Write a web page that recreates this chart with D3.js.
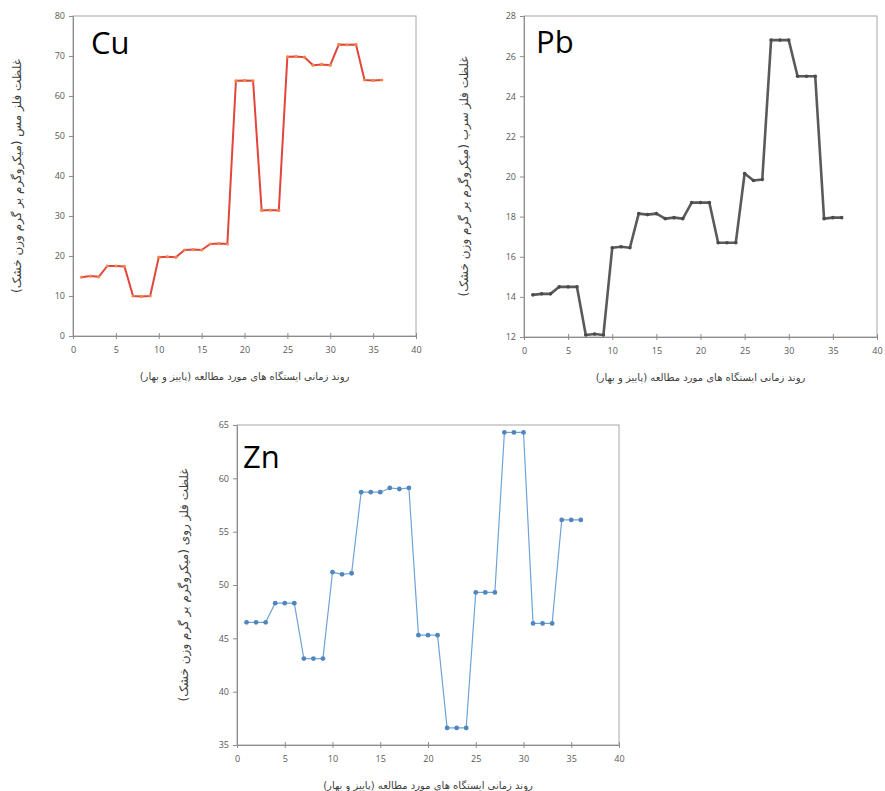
<!DOCTYPE html>
<html>
<head>
<meta charset="utf-8">
<script src="https://cdn.jsdelivr.net/npm/d3@7"></script>
<style>
  body { margin: 0; background: #fff; }
  svg { display: block; }
  .tick text { font-family: "Open Sans", sans-serif; font-size: 9px; fill: #595959; }
  .domain, .tick line { stroke: #8c8c8c; }
  .frame { fill: none; stroke: #a6a6a6; stroke-width: 1; }
  .ttl { font-family: "Open Sans", sans-serif; font-size: 31px; fill: #000; }
  .fa { font-family: "DejaVu Sans", sans-serif; font-size: 10px; fill: #404040; }
  .fa.yt { font-size: 12px; }
</style>
</head>
<body>
<svg id="chart" width="885" height="791"></svg>
<script>
// station index along the time trend (autumn + spring)
const stations = [1, 2, 3, 4, 5, 6, 7, 8, 9, 10, 11, 12, 13, 14, 15, 16, 17, 18,
  19, 20, 21, 22, 23, 24, 25, 26, 27, 28, 29, 30, 31, 32, 33, 34, 35, 36];

const cuValues = [14.7, 15.0, 14.8, 17.5, 17.5, 17.4, 10.0, 9.9, 10.0, 19.7, 19.8, 19.7,
  21.5, 21.6, 21.5, 23.0, 23.1, 23.0, 63.8, 63.9, 63.8, 31.4, 31.5, 31.4,
  69.8, 69.9, 69.7, 67.7, 67.9, 67.7, 72.9, 72.8, 72.9, 64.0, 63.9, 64.0];

const pbValues = [14.1, 14.15, 14.15, 14.5, 14.5, 14.5, 12.1, 12.15, 12.1, 16.45, 16.5, 16.45,
  18.15, 18.1, 18.15, 17.9, 17.95, 17.9, 18.7, 18.7, 18.7, 16.7, 16.7, 16.7,
  20.15, 19.8, 19.85, 26.8, 26.8, 26.8, 25.0, 25.0, 25.0, 17.9, 17.95, 17.95];

const znValues = [46.5, 46.5, 46.5, 48.3, 48.3, 48.3, 43.1, 43.1, 43.1, 51.2, 51.0, 51.1,
  58.7, 58.7, 58.7, 59.1, 59.0, 59.1, 45.3, 45.3, 45.3, 36.6, 36.6, 36.6,
  49.3, 49.3, 49.3, 64.3, 64.3, 64.3, 46.4, 46.4, 46.4, 56.1, 56.1, 56.1];

const xTicks = [0, 5, 10, 15, 20, 25, 30, 35, 40];
const cuTicks = [0, 10, 20, 30, 40, 50, 60, 70, 80];
const pbTicks = [12, 14, 16, 18, 20, 22, 24, 26, 28];
const znTicks = [35, 40, 45, 50, 55, 60, 65];

const xTitle = "روند زمانی ایستگاه های مورد مطالعه (پاییز و بهار)";

const svg = d3.select('#chart');

function drawPanel(opt) {
  const g = svg.append('g');
  const x = d3.scaleLinear().domain([0, 40]).range([opt.left, opt.right]);
  const y = d3.scaleLinear().domain(d3.extent(opt.ticks)).range([opt.bottom, opt.top]);

  // light frame on top / right
  g.append('rect').attr('class', 'frame')
    .attr('x', opt.left).attr('y', opt.top)
    .attr('width', opt.right - opt.left).attr('height', opt.bottom - opt.top);

  const xa = g.append('g').attr('transform', `translate(0,${opt.bottom})`)
    .call(d3.axisBottom(x).tickValues(xTicks).tickSize(3).tickPadding(8));
  xa.selectAll('.tick line').attr('y1', -3);

  g.append('g').attr('transform', `translate(${opt.left},0)`)
    .call(d3.axisLeft(y).tickValues(opt.ticks).tickSize(4).tickPadding(4));

  const line = d3.line().x((d, i) => x(stations[i])).y(d => y(d));
  g.append('path').datum(opt.values)
    .attr('fill', 'none')
    .attr('stroke', opt.color)
    .attr('stroke-width', opt.width)
    .attr('stroke-linejoin', 'round')
    .attr('d', line);

  g.selectAll('.pt').data(opt.values).enter().append('circle')
    .attr('cx', (d, i) => x(stations[i]))
    .attr('cy', d => y(d))
    .attr('r', opt.r)
    .attr('fill', opt.marker);

  g.append('text').attr('class', 'ttl')
    .attr('x', opt.left + opt.tdx).attr('y', opt.top + opt.tdy)
    .text(opt.name);

  g.append('text').attr('class', 'fa')
    .attr('text-anchor', 'middle').attr('direction', 'rtl')
    .attr('x', (opt.left + opt.right) / 2).attr('y', opt.bottom + 44)
    .text(xTitle);

  g.append('text').attr('class', 'fa yt')
    .attr('text-anchor', 'middle').attr('direction', 'rtl')
    .attr('transform', `translate(${opt.ytx},${(opt.top + opt.bottom) / 2}) rotate(-90)`)
    .text(opt.yTitle);
}

drawPanel({
  name: 'Cu', values: cuValues, ticks: cuTicks,
  left: 73, right: 416, top: 16, bottom: 336,
  color: '#e0463c', marker: '#f0884a', width: 2, r: 1.6,
  tdx: 18, tdy: 38, ytx: 21,
  yTitle: 'غلظت فلز مس (میکروگرم بر گرم وزن خشک)'
});

drawPanel({
  name: 'Pb', values: pbValues, ticks: pbTicks,
  left: 524, right: 877, top: 16, bottom: 337,
  color: '#5a5a5a', marker: '#4a4a4a', width: 2.6, r: 1.8,
  tdx: 12, tdy: 37, ytx: 468,
  yTitle: 'غلظت فلز سرب (میکروگرم بر گرم وزن خشک)'
});

drawPanel({
  name: 'Zn', values: znValues, ticks: znTicks,
  left: 237, right: 619, top: 425, bottom: 745,
  color: '#6fa3d6', marker: '#4f86bd', width: 1.2, r: 2.4,
  tdx: 6, tdy: 43, ytx: 188,
  yTitle: 'غلظت فلز روی (میکروگرم بر گرم وزن خشک)'
});
</script>
</body>
</html>
